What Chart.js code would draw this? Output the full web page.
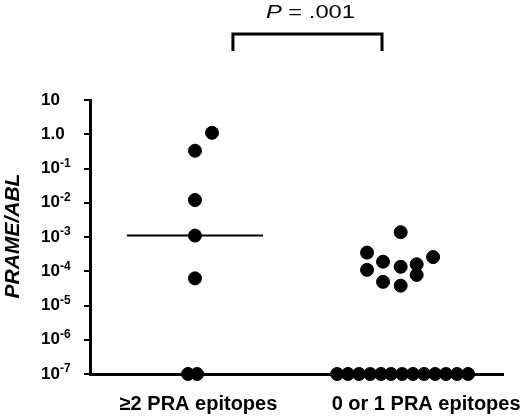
<!DOCTYPE html>
<html>
<head>
<meta charset="UTF-8">
<title>PRAME/ABL</title>
<script src="https://cdn.jsdelivr.net/npm/chart.js"></script>
<style>
  html, body { margin: 0; padding: 0; background: #fff; }
  #wrap { width: 520px; height: 420px; }
</style>
</head>
<body>
<div id="wrap"><canvas id="grafico"></canvas></div>
<script>
    // categorias (posição 1 e 2 no eixo x)
    const categorias = ['\u22652 PRA epitopes', '0 or 1 PRA epitopes'];

    // grupo 1: >=2 epitopos (x = categoria + deslocamento)
    const grupo1X = [1.083, 1.0, 1.0, 1.0, 1.0, 0.966, 1.01];
    const grupo1Y = [1.1, 0.33, 0.012, 0.0011, 0.000062, 1e-7, 1e-7];

    // grupo 2: 0 ou 1 epitopo
    const grupo2X = [2.003, 1.839, 2.161, 1.917, 1.839, 2.003, 2.081, 2.081, 1.917, 2.003,
        1.693, 1.746, 1.80, 1.854, 1.907, 1.956, 2.01, 2.063, 2.117, 2.171, 2.224, 2.278, 2.332];
    const grupo2Y = [0.00138, 0.00035, 0.00026, 0.00019, 0.00011, 0.000135, 0.00016, 0.000078, 0.000049, 0.000038,
        1e-7, 1e-7, 1e-7, 1e-7, 1e-7, 1e-7, 1e-7, 1e-7, 1e-7, 1e-7, 1e-7, 1e-7, 1e-7];

    // mediana do grupo 1
    const medianaX = [0.668, 1.332];
    const medianaY = [0.0011, 0.0011];

    // ticks do eixo y (expoentes de 10)
    const expoentes = [1, 0, -1, -2, -3, -4, -5, -6, -7];
    const valorP = 'P';
    const textoP = ' = .001';

    function pontos(xs, ys) {
        return xs.map((x, i) => ({ x: x, y: ys[i] }));
    }

    const fonte = '"Liberation Sans", Arial, sans-serif';

    // desenha rótulos do eixo y, título, colchete e valor de P
    const extras = {
        id: 'extras',
        afterDraw(chart) {
            const ctx = chart.ctx;
            const y = chart.scales.y;
            const x = chart.scales.x;
            ctx.save();
            ctx.fillStyle = '#000';
            ctx.textBaseline = 'middle';
            ctx.textAlign = 'left';
            expoentes.forEach(e => {
                const py = y.getPixelForValue(Math.pow(10, e));
                ctx.font = 'bold 17px ' + fonte;
                if (e === 1) {
                    ctx.fillText('10', 41, py);
                } else if (e === 0) {
                    ctx.fillText('1.0', 41, py);
                } else {
                    ctx.fillText('10', 41, py);
                    const w = ctx.measureText('10').width;
                    ctx.font = 'bold 12px ' + fonte;
                    ctx.fillText(String(e), 41 + w, py - 5);
                }
            });

            // título do eixo y
            ctx.save();
            ctx.translate(13, 236);
            ctx.rotate(-Math.PI / 2);
            ctx.textAlign = 'center';
            ctx.font = 'italic bold 21px ' + fonte;
            ctx.fillText('PRAME/ABL', 0, 0);
            ctx.restore();

            // colchete
            const x1 = x.getPixelForValue(1.185);
            const x2 = x.getPixelForValue(1.912);
            ctx.strokeStyle = '#000';
            ctx.lineWidth = 3;
            ctx.beginPath();
            ctx.moveTo(x1, 51);
            ctx.lineTo(x1, 34);
            ctx.lineTo(x2, 34);
            ctx.lineTo(x2, 51);
            ctx.stroke();

            // P = .001 (texto um pouco esticado na horizontal como no original)
            ctx.textBaseline = 'alphabetic';
            const esticar = 1.25;
            ctx.font = 'italic 19px ' + fonte;
            const wP = ctx.measureText(valorP).width;
            ctx.font = '19px ' + fonte;
            const wT = ctx.measureText(textoP).width;
            const cx = (x1 + x2) / 2 + 3;
            ctx.save();
            ctx.translate(cx - (wP + wT) * esticar / 2, 18);
            ctx.scale(esticar, 1);
            ctx.font = 'italic 19px ' + fonte;
            ctx.fillText(valorP, 0, 0);
            ctx.font = '19px ' + fonte;
            ctx.fillText(textoP, wP, 0);
            ctx.restore();
            ctx.restore();
        }
    };

    const dados = {
        datasets: [
            {
                label: 'Mediana',
                type: 'line',
                data: pontos(medianaX, medianaY),
                borderColor: '#000',
                borderWidth: 2,
                pointRadius: 0,
                fill: false
            },
            {
                label: categorias[0],
                data: pontos(grupo1X, grupo1Y),
                backgroundColor: '#000',
                borderColor: '#000',
                pointRadius: 6.5,
                clip: false
            },
            {
                label: categorias[1],
                data: pontos(grupo2X, grupo2Y),
                backgroundColor: '#000',
                borderColor: '#000',
                pointRadius: 6.5,
                clip: false
            }
        ]
    };

    const options = {
        responsive: true,
        maintainAspectRatio: false,
        animation: false,
        layout: { padding: { top: 100, right: 17, left: 0, bottom: 0 } },
        plugins: {
            legend: { display: false },
            tooltip: { enabled: false }
        },
        scales: {
            x: {
                type: 'linear',
                min: 0.488,
                max: 2.502,
                // rótulos levemente deslocados como no original
                afterBuildTicks: (s) => { s.ticks = [{ value: 1.017 }, { value: 2.127 }]; },
                afterFit: (s) => { s.height = 46; s.paddingLeft = 0; s.paddingRight = 0; },
                ticks: {
                    color: '#000',
                    padding: 10,
                    font: { family: fonte, size: 20, weight: 'bold' },
                    callback: (v, i) => categorias[i]
                },
                grid: { display: false },
                border: { color: '#000', width: 3 }
            },
            y: {
                type: 'logarithmic',
                min: 1e-7,
                max: 10,
                afterBuildTicks: (s) => { s.ticks = expoentes.map(e => ({ value: Math.pow(10, e) })); },
                afterFit: (s) => { s.width = 90; s.paddingTop = 0; s.paddingBottom = 0; },
                ticks: { display: false },
                grid: { drawOnChartArea: false, drawTicks: true, tickLength: 6, color: '#000', lineWidth: 2 },
                border: { color: '#000', width: 3 }
            }
        }
    };

    new Chart(document.getElementById('grafico'), {
        type: 'scatter',
        data: dados,
        options: options,
        plugins: [extras]
    });
</script>
</body>
</html>
